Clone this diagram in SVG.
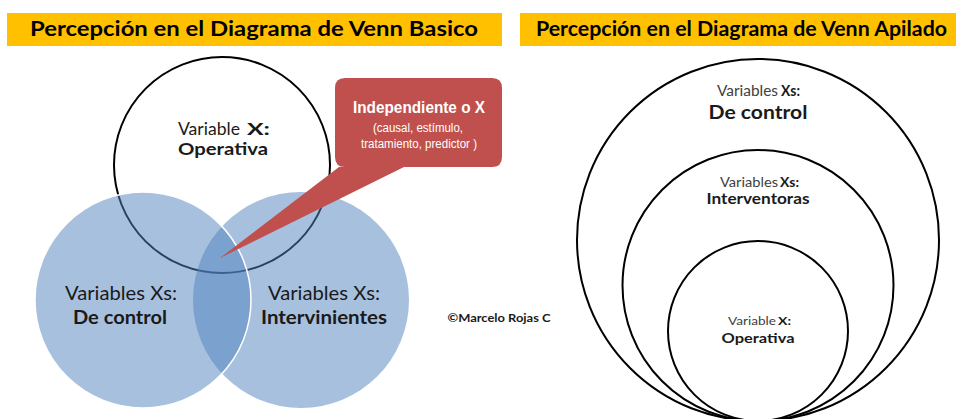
<svg xmlns="http://www.w3.org/2000/svg" width="956" height="419" viewBox="0 0 956 419">
<style>
.banner{fill:#FFC000}
.title{font-family:Lato,"Open Sans","Liberation Sans",sans-serif;font-weight:bold;font-size:21px;fill:#000}
.lbl{font-family:Lato,"Open Sans","Liberation Sans",sans-serif;fill:#1a1a1a;text-anchor:middle}
.st{font-family:Lato,"Open Sans","Liberation Sans",sans-serif;fill:#1a1a1a}
.b{font-weight:bold}
.g{fill:#404040}
.ring{fill:none;stroke:#000;stroke-width:2}
.blue{fill:#4F81BD;fill-opacity:0.5}
.call{font-family:"Liberation Sans Narrow","Liberation Sans",Arial,sans-serif;fill:#fff;text-anchor:middle}
</style>
<rect width="956" height="419" fill="#fff"/>

<g id="title-left">
<rect class="banner" x="7" y="13" width="495" height="33"/>
<text class="title" x="30" y="36" textLength="448" lengthAdjust="spacingAndGlyphs">Percepción en el Diagrama de Venn Basico</text>
</g>
<g id="title-right">
<rect class="banner" x="520" y="13" width="436" height="33"/>
<text class="title" x="536" y="36" font-size="20" textLength="411" lengthAdjust="spacingAndGlyphs">Percepción en el Diagrama de Venn Apilado</text>
</g>

<g id="node-operativa">
<circle cx="222" cy="165" r="108" fill="#fff" stroke="#000" stroke-width="2"/>
</g>
<g id="node-intervinientes">
<circle class="blue" cx="301" cy="300" r="108"/>
</g>
<g id="node-control">
<circle class="blue" cx="143" cy="300" r="108" stroke="#fff" stroke-width="1.5"/>
</g>

<g id="callout">
<path d="M345,78 H492 Q502,78 502,88 V157 Q502,167 492,167 H404 L220,258 L339,167 H345 Q335,167 335,157 V88 Q335,78 345,78 Z" fill="#C0504D"/>
<text class="call b" x="419" y="113" font-size="17" textLength="132" lengthAdjust="spacingAndGlyphs">Independiente o X</text>
<text class="call" x="418" y="132" font-size="12.5" textLength="90" lengthAdjust="spacingAndGlyphs">(causal, estímulo,</text>
<text class="call" x="419" y="148" font-size="12.5" textLength="116" lengthAdjust="spacingAndGlyphs">tratamiento, predictor )</text>
</g>

<g id="labels-left">
<text class="st" x="178" y="135" font-size="17" textLength="62" lengthAdjust="spacingAndGlyphs">Variable</text>
<text class="st b" x="247" y="135" font-size="17" textLength="23" lengthAdjust="spacingAndGlyphs">X:</text>
<text class="lbl b" x="223" y="155" font-size="17" textLength="90" lengthAdjust="spacingAndGlyphs">Operativa</text>
<text class="lbl" x="121" y="300" font-size="19" textLength="112" lengthAdjust="spacingAndGlyphs">Variables Xs:</text>
<text class="lbl b" x="120" y="324" font-size="19" textLength="94" lengthAdjust="spacingAndGlyphs">De control</text>
<text class="lbl" x="324" y="300" font-size="19" textLength="112" lengthAdjust="spacingAndGlyphs">Variables Xs:</text>
<text class="lbl b" x="324" y="324" font-size="19" textLength="126" lengthAdjust="spacingAndGlyphs">Intervinientes</text>
<text class="lbl b" x="499" y="322" font-size="12" textLength="103" lengthAdjust="spacingAndGlyphs">©Marcelo Rojas C</text>
</g>

<g id="node-apilado-control">
<circle class="ring" cx="758" cy="240" r="181"/>
<text class="st g" x="717" y="96" font-size="14.5" textLength="61" lengthAdjust="spacingAndGlyphs">Variables</text>
<text class="st b" x="781" y="96" font-size="14.5" textLength="19" lengthAdjust="spacingAndGlyphs">Xs:</text>
<text class="lbl b" x="758" y="119" font-size="19.5" textLength="99" lengthAdjust="spacingAndGlyphs">De control</text>
</g>
<g id="node-apilado-interventoras">
<circle class="ring" cx="758" cy="285.5" r="135.5"/>
<text class="st g" x="720" y="187" font-size="13.5" textLength="58" lengthAdjust="spacingAndGlyphs">Variables</text>
<text class="st b" x="780" y="187" font-size="13.5" textLength="19" lengthAdjust="spacingAndGlyphs">Xs:</text>
<text class="lbl b" x="758" y="204" font-size="15" textLength="103" lengthAdjust="spacingAndGlyphs">Interventoras</text>
</g>
<g id="node-apilado-operativa">
<circle class="ring" cx="758" cy="331" r="90"/>
<text class="st g" x="728" y="325" font-size="12" textLength="48" lengthAdjust="spacingAndGlyphs">Variable</text>
<text class="st b" x="778" y="325" font-size="12" textLength="13" lengthAdjust="spacingAndGlyphs">X:</text>
<text class="lbl b" x="758" y="343" font-size="14" textLength="73" lengthAdjust="spacingAndGlyphs">Operativa</text>
</g>
</svg>
